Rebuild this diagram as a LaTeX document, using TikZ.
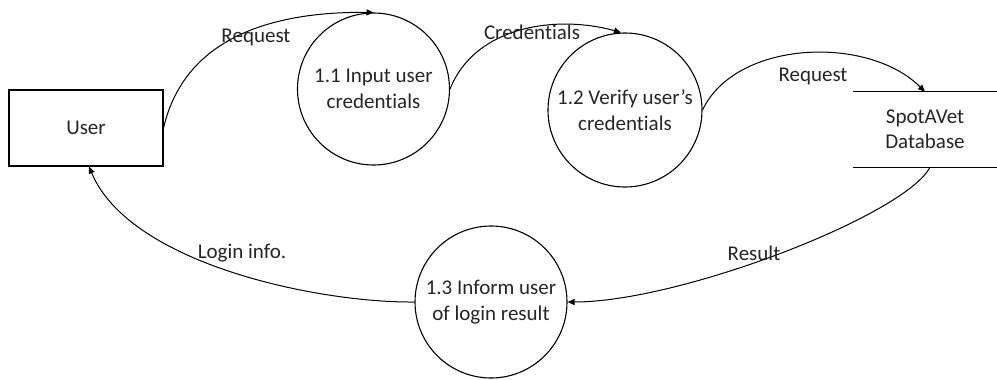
\documentclass[tikz,border=0pt]{standalone}
\usepackage{fontspec}
\setmainfont{Carlito}[Ligatures=NoCommon]
\usetikzlibrary{arrows.meta}
\begin{document}
\begin{tikzpicture}[x=1pt,y=1pt,
  every node/.style={font=\fontsize{21}{25.5}\selectfont, align=center, inner sep=0pt, text=black!85},
  proc/.style={draw=black, circle, line width=1.1pt, minimum size=152pt},
  ent/.style={draw=black, rectangle, line width=1.1pt, minimum width=154pt, minimum height=76pt},
  store/.style={rectangle, minimum width=144pt, minimum height=75pt},
  flow/.style={line width=1pt, -{Triangle[length=7pt,width=6pt]}},
  lbl/.style={}]
\useasboundingbox (0,0) rectangle (997,-380);
\node[ent] (user) at (86,-128) {User};
\node[proc] (p11) at (373.5,-89) {1.1 Input user\\credentials};
\node[proc, minimum size=154pt] (p12) at (625,-110) {1.2 Verify user's\\credentials};
\node[store] (db) at (925,-129.5) {SpotAVet\\Database};
\draw[line width=1.1pt] (db.north west) -- (db.north east);
\draw[line width=1.1pt] (db.south west) -- (db.south east);
\node[proc] (p13) at (491,-302) {1.3 Inform user\\of login result};

\draw[flow] (user.east) .. controls +(22,95) and +(-93,1) .. (p11.north);
\draw[flow] (p11.east) .. controls +(25,63) and +(-65,18) .. ([xshift=-4pt]p12.north);
\draw[flow] (p12.east) .. controls +(33,70) and +(-57,57) .. (db.north);
\draw[flow] ([xshift=5pt]db.south) .. controls +(-25,-48) and +(113,0) .. (p13.east);
\draw[flow] (p13.west) .. controls +(-95,-1) and +(41,-98) .. ([xshift=3pt]user.south);

\node[lbl] (l1) at (256,-37) {Request};
\node[lbl] (l2) at (532,-32) {Credentials};
\node[lbl] (l3) at (813,-76) {Request};
\node[lbl] (l4) at (242,-253) {Login info.};
\node[lbl] (l5) at (754,-253) {Result};
\end{tikzpicture}
\end{document}
